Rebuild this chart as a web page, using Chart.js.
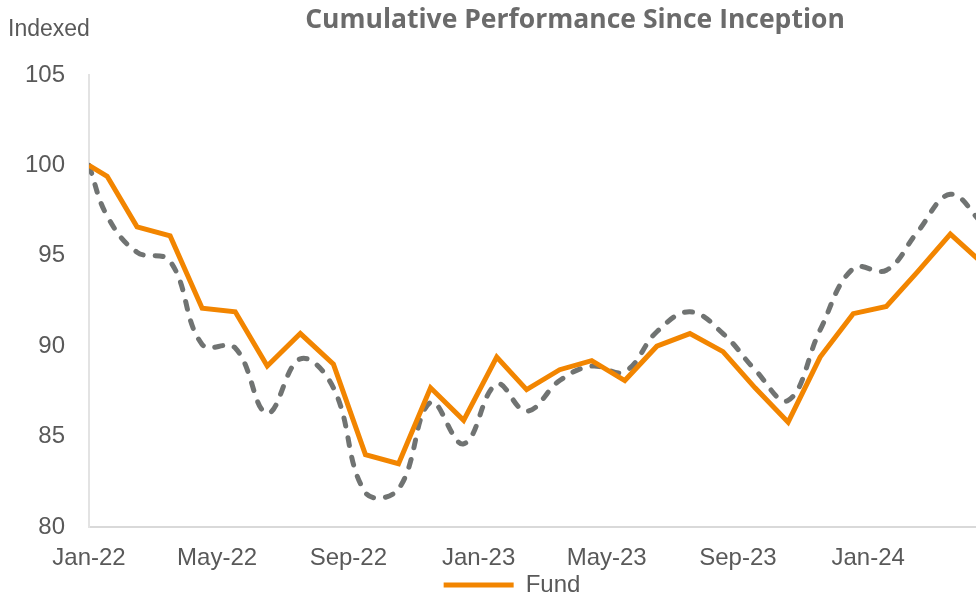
<!DOCTYPE html>
<html>
<head>
<meta charset="utf-8">
<script src="https://cdn.jsdelivr.net/npm/chart.js@4"></script>
<style>
  body { margin: 0; overflow: hidden; background: #fff; }
  #wrap { position: relative; width: 1024px; height: 597px; }
  #title {
    position: absolute; top: 0px; left: 575px; transform: translateX(-50%);
    font: bold 26.5px "Open Sans", sans-serif; color: #6b6b6b; white-space: nowrap;
  }
  #yTitle {
    position: absolute; top: 15px; left: 8px;
    font: 23px "Liberation Sans", sans-serif; color: #595959;
  }
</style>
</head>
<body>
<div id="wrap">
  <canvas id="chart"></canvas>
  <div id="title">Cumulative Performance Since Inception</div>
  <div id="yTitle">Indexed</div>
</div>
<script>
// 기준일(설정일)과 월말 날짜
const startDate = '2022-01-14';
const axisEndDate = '2024-06-08'; // 화면 밖까지 이어지는 x축 끝
const dates = [
  '2022-01-14', '2022-01-31', '2022-02-28', '2022-03-31', '2022-04-30', '2022-05-31',
  '2022-06-30', '2022-07-31', '2022-08-31', '2022-09-30', '2022-10-31', '2022-11-30',
  '2022-12-31', '2023-01-31', '2023-02-28', '2023-03-31', '2023-04-30', '2023-05-31',
  '2023-06-30', '2023-07-31', '2023-08-31', '2023-09-30', '2023-10-31', '2023-11-30',
  '2023-12-31', '2024-01-31', '2024-02-29', '2024-03-31', '2024-04-30'
];

// 펀드 지수 (주황 실선)
const fund = [
  100, 99.4, 96.6, 96.1, 92.1, 91.9, 88.9, 90.7, 89.0, 84.0, 83.5, 87.7,
  85.9, 89.4, 87.6, 88.7, 89.2, 88.1, 90.0, 90.7, 89.7, 87.7, 85.8, 89.4,
  91.8, 92.2, 94.1, 96.2, 94.6
];

// 비교 지수 (회색 점선)
const benchmark = [
  100, 97.2, 95.2, 94.7, 90.1, 89.9, 86.3, 89.3, 87.7, 81.9, 82.1, 86.9,
  84.6, 87.9, 86.4, 88.1, 88.9, 88.6, 90.8, 91.9, 90.7, 88.7, 87.0, 90.9,
  94.3, 94.2, 96.3, 98.4, 96.8
];

// x축 눈금 날짜와 레이블
const tickDates = ['2022-01-14', '2022-05-14', '2022-09-14', '2023-01-14', '2023-05-14', '2023-09-14', '2024-01-14'];
const tickLabels = ['Jan-22', 'May-22', 'Sep-22', 'Jan-23', 'May-23', 'Sep-23', 'Jan-24'];

const yTicks = [80, 85, 90, 95, 100, 105];

// 날짜 -> 기준일로부터 경과 일수
const dayOf = d => (Date.parse(d) - Date.parse(startDate)) / 86400000;

const toPoints = values => values.map((v, i) => ({ x: dayOf(dates[i]), y: v }));

const tickFont = { family: 'Liberation Sans', size: 24 };

const ctx = document.getElementById('chart').getContext('2d');

new Chart(ctx, {
  type: 'line',
  data: {
    datasets: [
      {
        label: 'Fund',
        data: toPoints(fund),
        borderColor: '#F28500',
        backgroundColor: '#F28500',
        borderWidth: 5,
        pointRadius: 0,
        tension: 0,
        borderJoinStyle: 'miter'
      },
      {
        label: 'Benchmark',
        data: toPoints(benchmark),
        borderColor: '#707372',
        backgroundColor: '#707372',
        borderWidth: 5,
        borderDash: [8, 12],
        borderCapStyle: 'round',
        pointRadius: 0,
        tension: 0.4
      }
    ]
  },
  options: {
    responsive: true,
    maintainAspectRatio: false,
    animation: false,
    layout: { padding: { top: 75, right: 0, left: 0, bottom: 0 } },
    plugins: {
      title: { display: false },
      tooltip: { enabled: false },
      legend: {
        position: 'bottom',
        maxHeight: 24,
        labels: {
          // 범례에는 펀드만 표시
          filter: item => item.text === 'Fund',
          usePointStyle: true,
          pointStyle: 'line',
          pointStyleWidth: 70,
          padding: 0,
          color: '#595959',
          font: tickFont
        }
      }
    },
    scales: {
      x: {
        type: 'linear',
        min: 0,
        max: dayOf(axisEndDate),
        grid: { display: false, drawTicks: false },
        border: { display: true, color: '#d9d9d9', width: 2 },
        afterBuildTicks: axis => {
          axis.ticks = tickDates.map(d => ({ value: dayOf(d) }));
        },
        afterFit: axis => { axis.height = 46; },
        ticks: {
          autoSkip: false,
          maxRotation: 0,
          padding: 17,
          color: '#595959',
          font: tickFont,
          callback: (value, index) => tickLabels[index]
        }
      },
      y: {
        min: 80,
        max: 105,
        grid: { display: false, drawTicks: false },
        border: { display: true, color: '#e3e3e3', width: 2 },
        afterBuildTicks: axis => {
          axis.ticks = yTicks.map(v => ({ value: v }));
        },
        afterFit: axis => { axis.width = 89; },
        ticks: {
          padding: 24,
          color: '#595959',
          font: tickFont
        }
      }
    }
  }
});
</script>
</body>
</html>
